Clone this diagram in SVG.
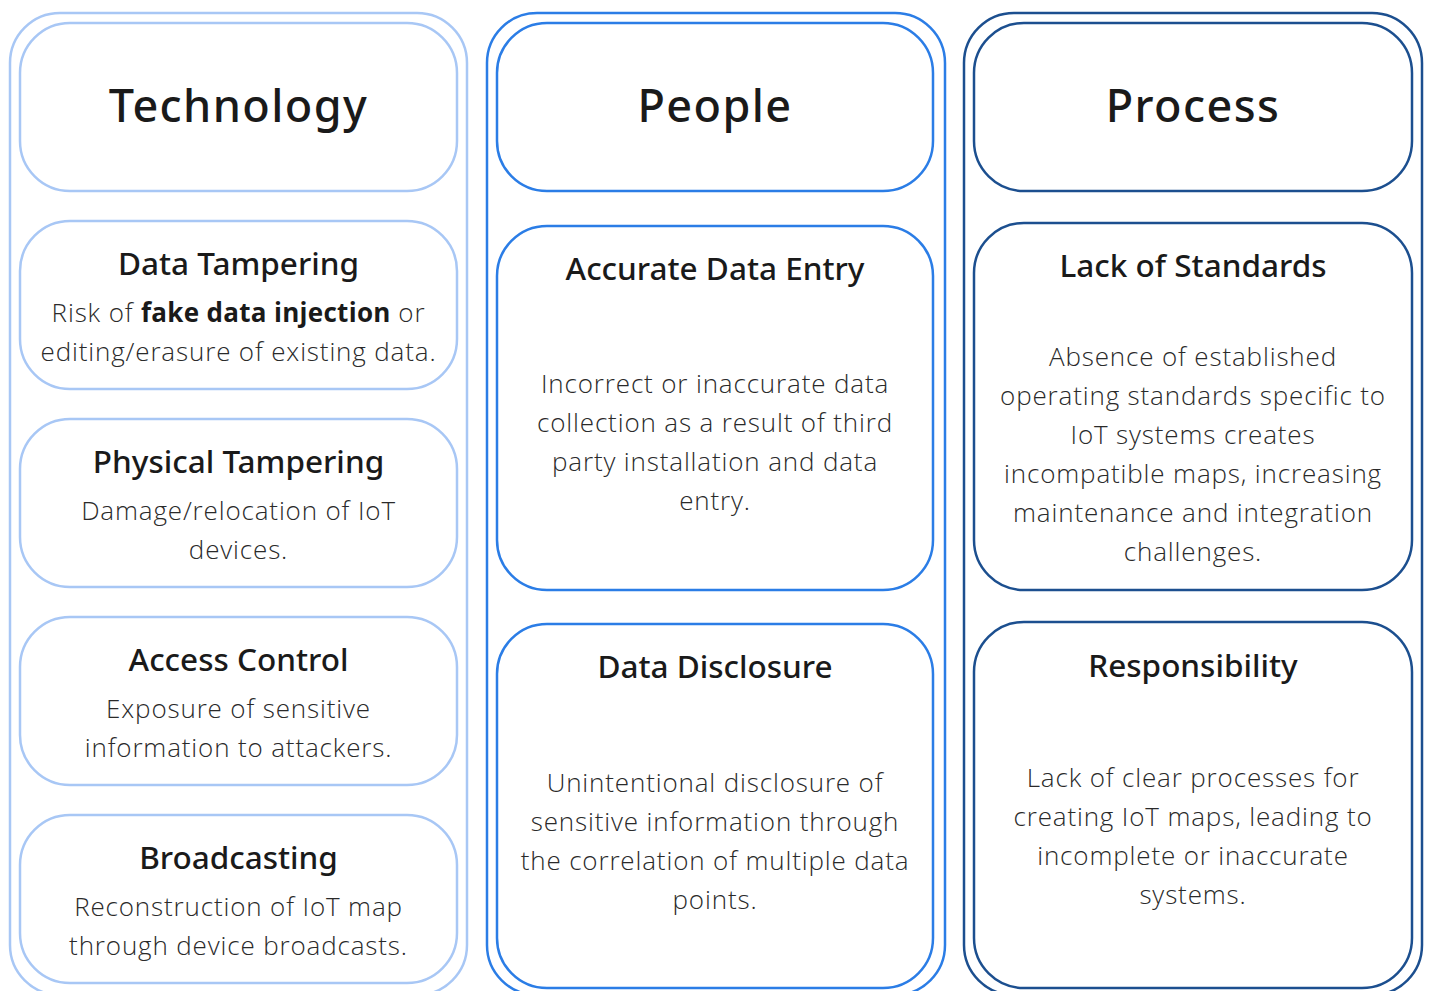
<svg xmlns="http://www.w3.org/2000/svg" width="1429" height="991" viewBox="0 0 1429 991">
<style>
.bg{fill:#ffffff}
.c1{fill:#ffffff;stroke:#a8c7f5;stroke-width:2.5}
.c2{fill:#ffffff;stroke:#2b7de6;stroke-width:2.5}
.c3{fill:#ffffff;stroke:#1c4f8f;stroke-width:2.5}
.hd{font-family:"Noto Sans","Liberation Sans",sans-serif;font-size:45px;font-weight:500;fill:#1a1a1a;text-anchor:middle;letter-spacing:1.4px}
.tt{font-family:"Noto Sans","Liberation Sans",sans-serif;font-size:31.5px;font-weight:500;fill:#1a1a1a;text-anchor:middle}
.bd{font-family:"Open Sans","Noto Sans","Liberation Sans",sans-serif;font-size:26px;font-weight:300;fill:#2a2a2a;text-anchor:middle;letter-spacing:0.85px}
.b{font-weight:700;fill:#1a1a1a;letter-spacing:0.3px}
</style>
<rect class="bg" x="0" y="0" width="1429" height="991"/>
<g id="col-technology">
<rect class="c1" x="10" y="13" width="457" height="982" rx="50"/>
<g id="tech-header"><rect class="c1" x="20" y="23" width="437" height="168" rx="50"/><text class="hd" x="238.5" y="122">Technology</text></g>
<g id="data-tampering"><rect class="c1" x="20" y="221" width="437" height="168" rx="50"/><text class="tt" x="238.5" y="275">Data Tampering</text><text class="bd" x="238.5" y="322">Risk of <tspan class="b">fake data injection</tspan> or</text><text class="bd" x="238.5" y="361">editing/erasure of existing data.</text></g>
<g id="physical-tampering"><rect class="c1" x="20" y="419" width="437" height="168" rx="50"/><text class="tt" x="238.5" y="473">Physical Tampering</text><text class="bd" x="238.5" y="520">Damage/relocation of IoT</text><text class="bd" x="238.5" y="559">devices.</text></g>
<g id="access-control"><rect class="c1" x="20" y="617" width="437" height="168" rx="50"/><text class="tt" x="238.5" y="671">Access Control</text><text class="bd" x="238.5" y="718">Exposure of sensitive</text><text class="bd" x="238.5" y="757">information to attackers.</text></g>
<g id="broadcasting"><rect class="c1" x="20" y="815" width="437" height="168" rx="50"/><text class="tt" x="238.5" y="869">Broadcasting</text><text class="bd" x="238.5" y="916">Reconstruction of IoT map</text><text class="bd" x="238.5" y="955">through device broadcasts.</text></g>
</g>
<g id="col-people">
<rect class="c2" x="487" y="13" width="458" height="982" rx="50"/>
<g id="people-header"><rect class="c2" x="497" y="23" width="436" height="168" rx="50"/><text class="hd" x="715" y="122">People</text></g>
<g id="accurate-data-entry"><rect class="c2" x="497" y="226" width="436" height="364" rx="50"/><text class="tt" x="715" y="280">Accurate Data Entry</text><text class="bd" x="715" y="393">Incorrect or inaccurate data</text><text class="bd" x="715" y="432">collection as a result of third</text><text class="bd" x="715" y="471">party installation and data</text><text class="bd" x="715" y="510">entry.</text></g>
<g id="data-disclosure"><rect class="c2" x="497" y="624" width="436" height="364" rx="50"/><text class="tt" x="715" y="678">Data Disclosure</text><text class="bd" x="715" y="792">Unintentional disclosure of</text><text class="bd" x="715" y="831">sensitive information through</text><text class="bd" x="715" y="870">the correlation of multiple data</text><text class="bd" x="715" y="909">points.</text></g>
</g>
<g id="col-process">
<rect class="c3" x="964" y="13" width="458" height="982" rx="50"/>
<g id="process-header"><rect class="c3" x="974" y="23" width="438" height="168" rx="50"/><text class="hd" x="1193" y="122">Process</text></g>
<g id="lack-of-standards"><rect class="c3" x="974" y="223" width="438" height="367" rx="50"/><text class="tt" x="1193" y="277">Lack of Standards</text><text class="bd" x="1193" y="366">Absence of established</text><text class="bd" x="1193" y="405">operating standards specific to</text><text class="bd" x="1193" y="444">IoT systems creates</text><text class="bd" x="1193" y="483">incompatible maps, increasing</text><text class="bd" x="1193" y="522">maintenance and integration</text><text class="bd" x="1193" y="561">challenges.</text></g>
<g id="responsibility"><rect class="c3" x="974" y="622" width="438" height="366" rx="50"/><text class="tt" x="1193" y="677">Responsibility</text><text class="bd" x="1193" y="787">Lack of clear processes for</text><text class="bd" x="1193" y="826">creating IoT maps, leading to</text><text class="bd" x="1193" y="865">incomplete or inaccurate</text><text class="bd" x="1193" y="904">systems.</text></g>
</g>
<g id="connectors"></g>
</svg>
